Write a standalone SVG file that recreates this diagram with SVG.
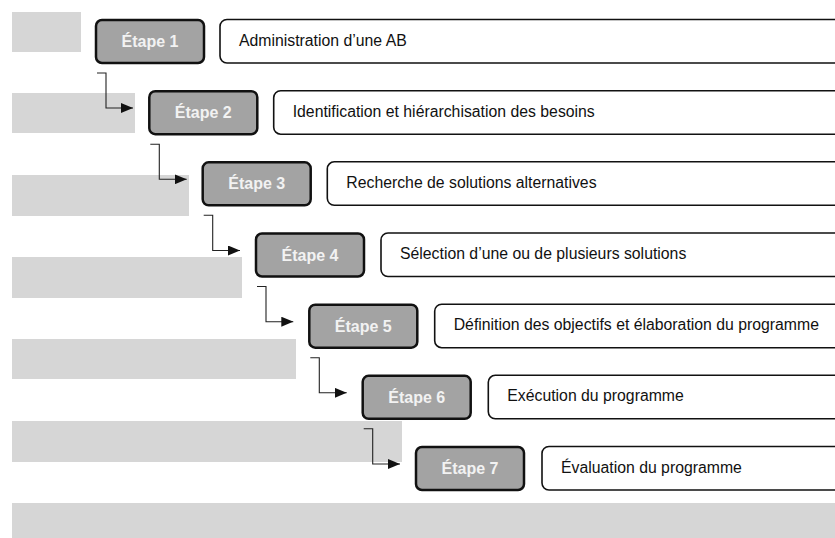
<svg xmlns="http://www.w3.org/2000/svg" width="835" height="538" viewBox="0 0 835 538">
<style>
.bar{fill:#d6d6d6}
.step rect{fill:#a3a3a3;stroke:#111;stroke-width:2.5}
.step text{font-family:"Liberation Sans",Arial,sans-serif;font-weight:bold;font-size:16px;fill:#f2f2f2;text-anchor:middle}
.desc rect{fill:#fff;stroke:#111;stroke-width:1.6}
.desc text{font-family:"Liberation Sans",Arial,sans-serif;font-size:15.8px;fill:#111}
.conn{fill:none;stroke:#222;stroke-width:1.1;marker-end:url(#ah)}
</style>
<defs>
<marker id="ah" markerUnits="userSpaceOnUse" markerWidth="12" markerHeight="10" refX="12" refY="5" orient="auto">
<path d="M0,0 L12,5 L0,10 z" fill="#111"/>
</marker>
</defs>
<g id="bars">
<rect class="bar" x="12" y="12" width="69" height="40"/>
<rect class="bar" x="12" y="93" width="123" height="40"/>
<rect class="bar" x="12" y="175" width="177" height="41"/>
<rect class="bar" x="12" y="257" width="230" height="41"/>
<rect class="bar" x="12" y="339" width="284" height="40"/>
<rect class="bar" x="12" y="421" width="390" height="41"/>
<rect class="bar" x="12" y="503" width="830" height="40"/>
</g>
<g id="connectors">
<polyline class="conn" points="97,73 106,73 106,108 133,108"/>
<polyline class="conn" points="150.3,144.2 159.3,144.2 159.3,179.3 186.7,179.3"/>
<polyline class="conn" points="203.7,215.3 212.7,215.3 212.7,250.5 240,250.5"/>
<polyline class="conn" points="257,286.5 266,286.5 266,321.7 293.3,321.7"/>
<polyline class="conn" points="310.3,357.7 319.3,357.7 319.3,392.8 346.7,392.8"/>
<polyline class="conn" points="363.7,428.8 372.7,428.8 372.7,464 400,464"/>
</g>
<g id="step1" class="step"><rect x="96" y="20" width="108" height="43" rx="6"/><text x="150" y="47">Étape 1</text></g>
<g id="desc1" class="desc"><rect x="220" y="19.5" width="630" height="43.5" rx="7"/><text x="239" y="45.5">Administration d’une AB</text></g>
<g id="step2" class="step"><rect x="149.3" y="91.2" width="108" height="43" rx="6"/><text x="203.3" y="118.2">Étape 2</text></g>
<g id="desc2" class="desc"><rect x="273.7" y="90.7" width="630" height="43.5" rx="7"/><text x="292.7" y="116.7">Identification et hiérarchisation des besoins</text></g>
<g id="step3" class="step"><rect x="202.7" y="162.3" width="108" height="43" rx="6"/><text x="256.7" y="189.3">Étape 3</text></g>
<g id="desc3" class="desc"><rect x="327.3" y="161.8" width="630" height="43.5" rx="7"/><text x="346.3" y="187.8">Recherche de solutions alternatives</text></g>
<g id="step4" class="step"><rect x="256" y="233.5" width="108" height="43" rx="6"/><text x="310" y="260.5">Étape 4</text></g>
<g id="desc4" class="desc"><rect x="381" y="233" width="630" height="43.5" rx="7"/><text x="400" y="259">Sélection d’une ou de plusieurs solutions</text></g>
<g id="step5" class="step"><rect x="309.3" y="304.7" width="108" height="43" rx="6"/><text x="363.3" y="331.7">Étape 5</text></g>
<g id="desc5" class="desc"><rect x="434.7" y="304.2" width="630" height="43.5" rx="7"/><text x="453.7" y="330.2">Définition des objectifs et élaboration du programme</text></g>
<g id="step6" class="step"><rect x="362.7" y="375.8" width="108" height="43" rx="6"/><text x="416.7" y="402.8">Étape 6</text></g>
<g id="desc6" class="desc"><rect x="488.3" y="375.3" width="630" height="43.5" rx="7"/><text x="507.3" y="401.3">Exécution du programme</text></g>
<g id="step7" class="step"><rect x="416" y="447" width="108" height="43" rx="6"/><text x="470" y="474">Étape 7</text></g>
<g id="desc7" class="desc"><rect x="542" y="446.5" width="630" height="43.5" rx="7"/><text x="561" y="472.5">Évaluation du programme</text></g>
</svg>
